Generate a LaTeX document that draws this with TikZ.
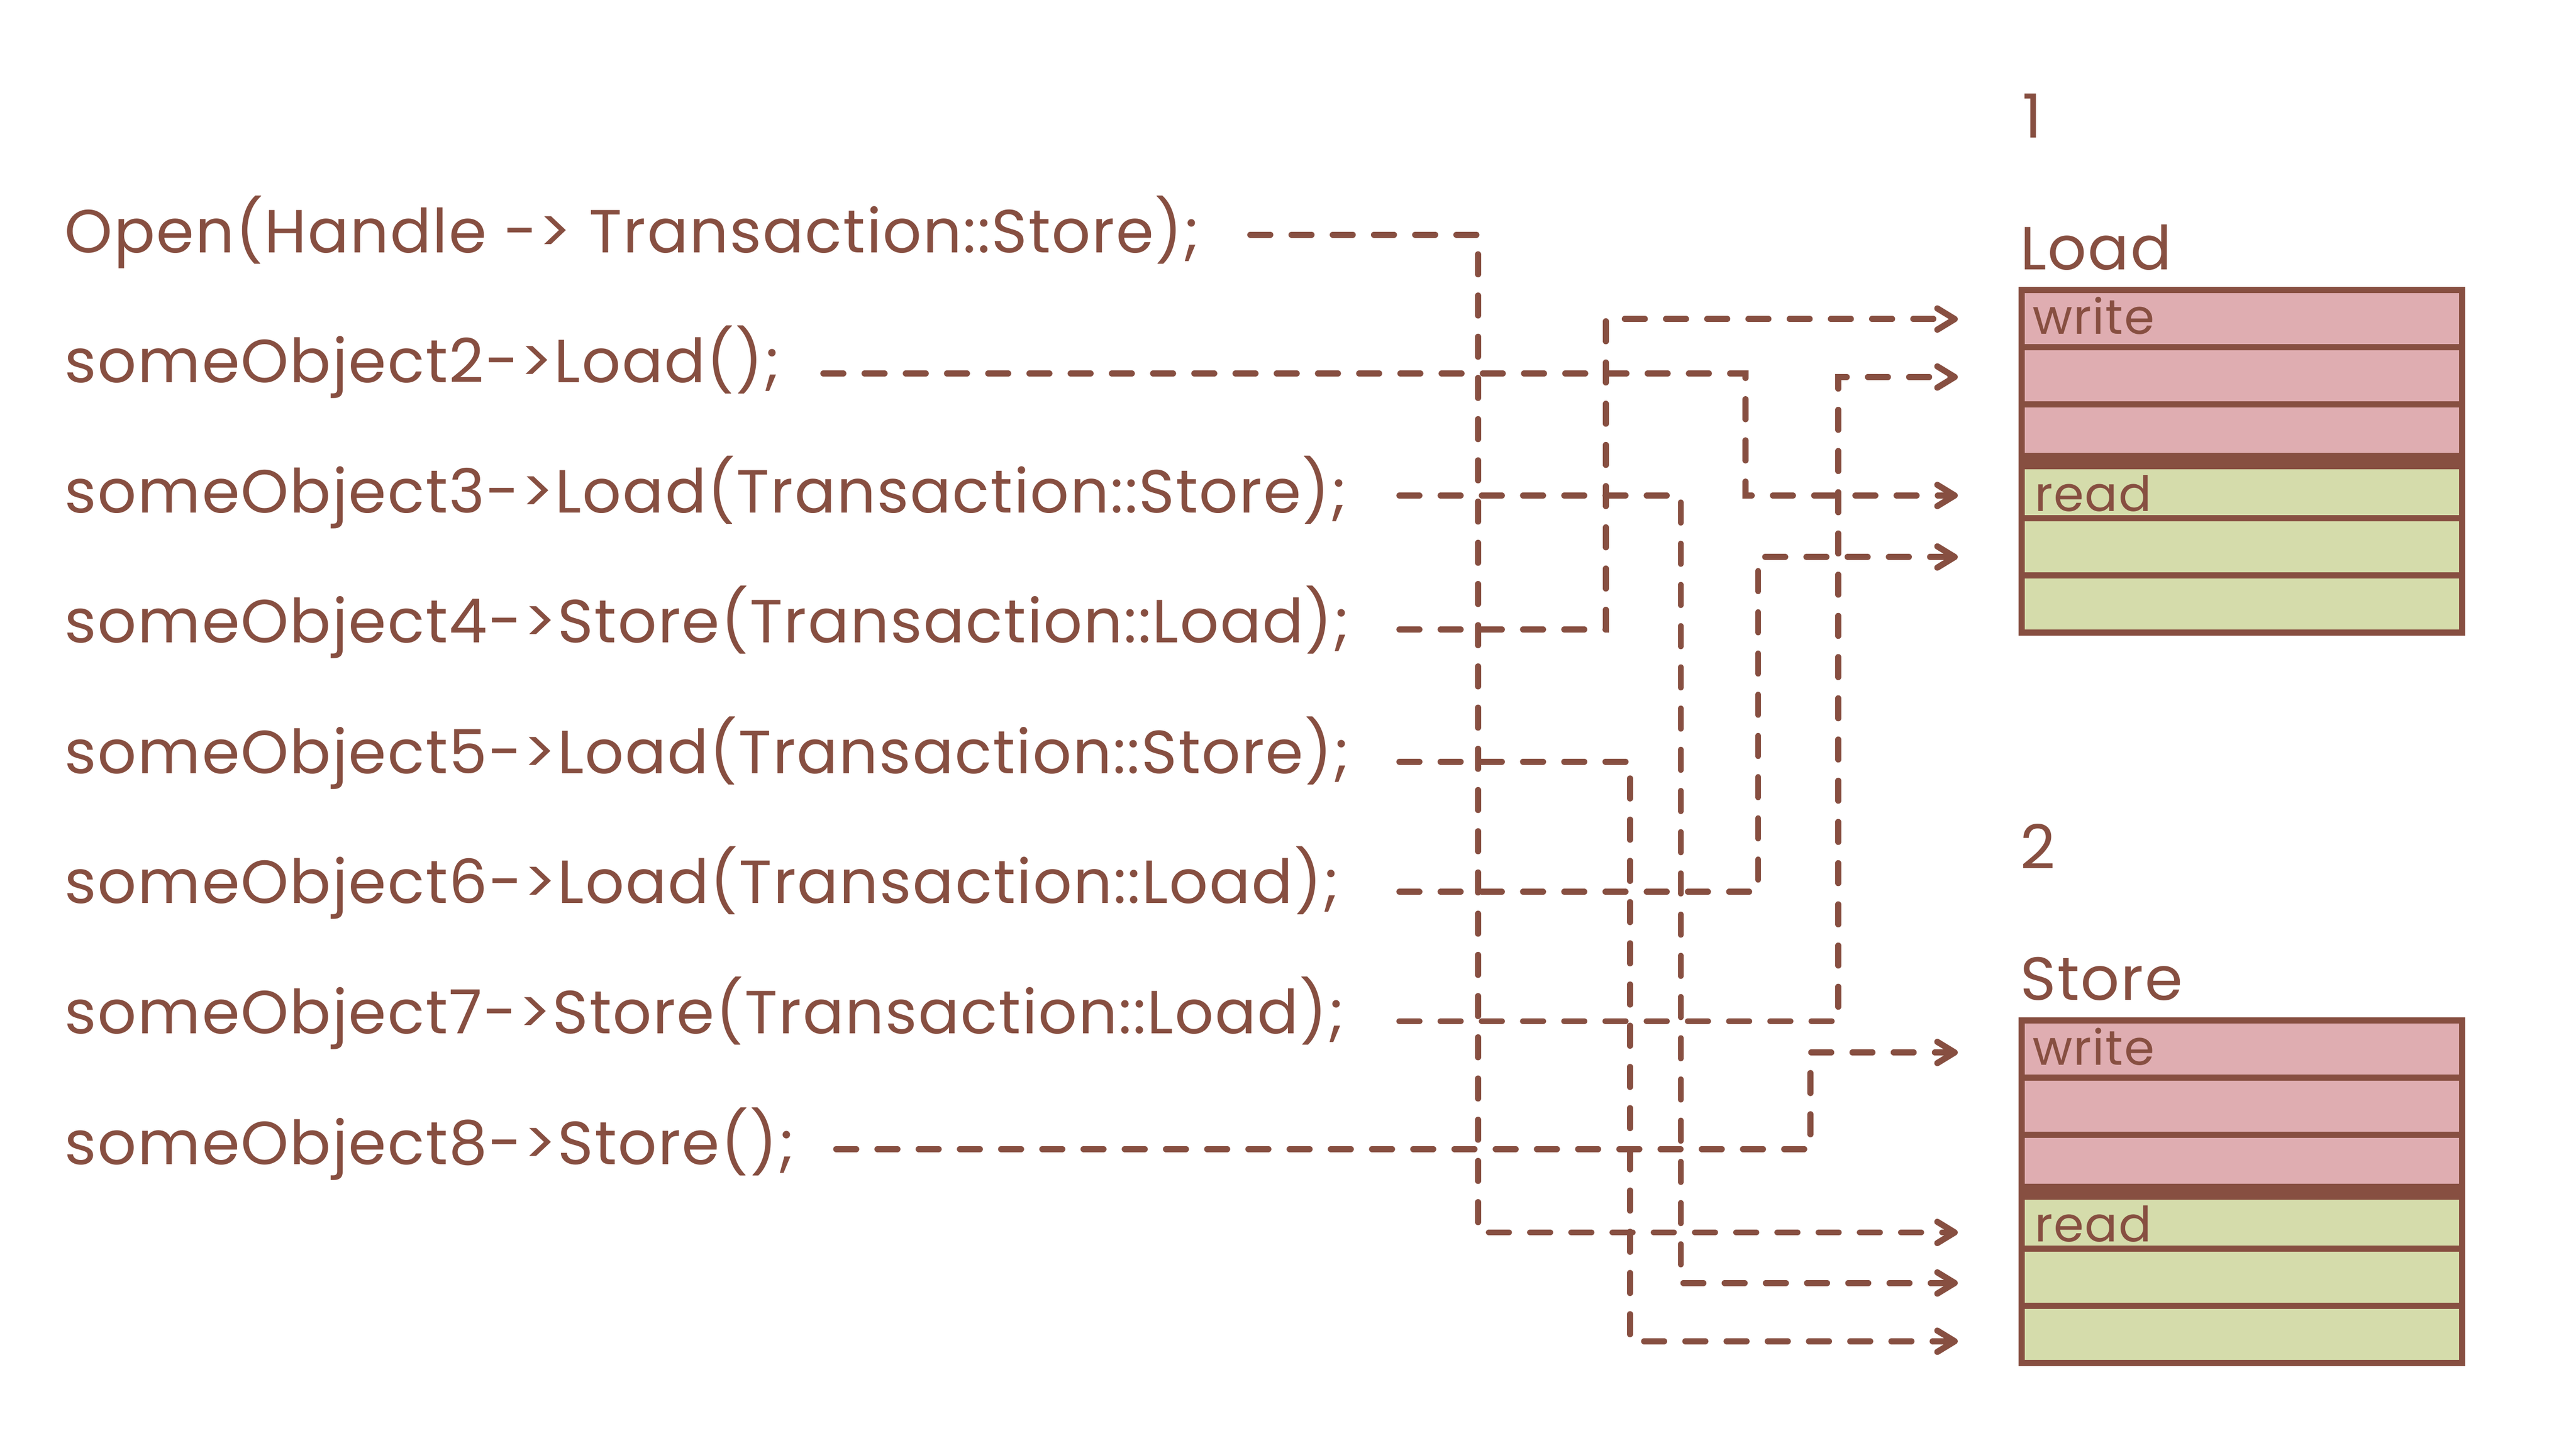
\documentclass[tikz,border=0pt]{standalone}
\usepackage{fontspec}
\setmainfont{Poppins}[LetterSpace=2.0]
\usetikzlibrary{positioning,arrows.meta}
\definecolor{rust}{HTML}{874F41}
\definecolor{rowpink}{HTML}{DFADB1}
\definecolor{rowgreen}{HTML}{D5DCAB}

\begin{document}
\begin{tikzpicture}[node distance=0.886cm,on grid,
        code/.style={anchor=base west,inner sep=0pt,text=rust,font=\fontsize{26.9}{32}\selectfont},
        tag/.style={anchor=base west,inner sep=0pt,text=rust,font=\fontsize{21.5}{26}\selectfont},
        cell/.style={draw=rust,line width=0.095cm,minimum width=6.835cm,minimum height=0.886cm,inner sep=0pt,outer sep=0pt},
        wr/.style={cell,fill=rowpink},
        rd/.style={cell,fill=rowgreen},
        link/.style={draw=rust,line width=0.095cm,line cap=round,dash pattern=on 0.31cm off 0.33cm,
            -{Straight Barb[length=0.27cm,width=0.33cm,line cap=round,line join=round]}}]
        \useasboundingbox (0,0) rectangle (40,-22.485);

        % code lines
        \node[code] (l1) at (1.0,-3.92) {Open(Handle -> Transaction::Store);};
        \node[code] (l2) at (1.0,-5.94) {someObject2->Load();};
        \node[code] (l3) at (1.0,-7.96) {someObject3->Load(Transaction::Store);};
        \node[code] (l4) at (1.0,-9.98) {someObject4->Store(Transaction::Load);};
        \node[code] (l5) at (1.0,-12.01) {someObject5->Load(Transaction::Store);};
        \node[code] (l6) at (1.0,-14.03) {someObject6->Load(Transaction::Load);};
        \node[code] (l7) at (1.0,-16.05) {someObject7->Store(Transaction::Load);};
        \node[code] (l8) at (1.0,-18.08) {someObject8->Store();};

        % Load block
        \node[wr] (ld1) at (34.8125,-4.948) {};
        \node[wr] (ld2) [below=of ld1] {};
        \node[wr] (ld3) [below=of ld2] {};
        \node[rd] (ld4) [below=of ld3] {};
        \node[rd] (ld5) [below=of ld4] {};
        \node[rd] (ld6) [below=of ld5] {};
        \draw[rust,line width=0.255cm] (ld3.south west) -- (ld3.south east);
        \node[tag] at ([shift={(0.16,0.2)}]ld1.south west) {write};
        \node[tag] at ([shift={(0.19,0.11)}]ld4.south west) {read};
        \node[code] (n1) at ([shift={(0.0,2.365)}]ld1.north west) {1};
        \node[code] (load) at ([shift={(-0.03,0.315)}]ld1.north west) {Load};

        % Store block
        \node[wr] (st1) at (34.8125,-16.293) {};
        \node[wr] (st2) [below=of st1] {};
        \node[wr] (st3) [below=of st2] {};
        \node[rd] (st4) [below=of st3] {};
        \node[rd] (st5) [below=of st4] {};
        \node[rd] (st6) [below=of st5] {};
        \draw[rust,line width=0.255cm] (st3.south west) -- (st3.south east);
        \node[tag] at ([shift={(0.16,0.2)}]st1.south west) {write};
        \node[tag] at ([shift={(0.19,0.11)}]st4.south west) {read};
        \node[code] (n2) at ([shift={(-0.03,2.36)}]st1.north west) {2};
        \node[code] (store) at ([shift={(-0.03,0.32)}]st1.north west) {Store};

        % ends of the links
        \coordinate (s1) at (19.415,-3.645);
        \coordinate (s2) at (12.785,-5.80);
        \coordinate (s3) at (21.73,-7.695);
        \coordinate (s4) at (21.73,-9.775);
        \coordinate (s5) at (21.73,-11.83);
        \coordinate (s6) at (21.73,-13.85);
        \coordinate (s7) at (21.73,-15.86);
        \coordinate (s8) at (12.985,-17.845);
        \coordinate (t1) at (30.40,-19.14);
        \coordinate (t2) at (30.40,-7.695);
        \coordinate (t3) at (30.40,-19.925);
        \coordinate (t4) at (30.40,-4.955);
        \coordinate (t5) at (30.40,-20.83);
        \coordinate (t6) at (30.40,-8.65);
        \coordinate (t7) at (30.40,-5.855);
        \coordinate (t8) at (30.40,-16.345);

        \draw[link] (s1) -| (22.95,-19.14) -- (t1);
        \draw[link] (s2) -| (27.105,-7.695) -- (t2);
        \draw[link] (s3) -| (26.10,-19.925) -- (t3);
        \draw[link] (s4) -| (24.935,-4.955) -- (t4);
        \draw[link] (s5) -| (25.31,-20.83) -- (t5);
        \draw[link] (s6) -| (27.30,-8.65) -- (t6);
        \draw[link] (s7) -| (28.545,-5.855) -- (t7);
        \draw[link] (s8) -| (28.115,-16.345) -- (t8);
    \end{tikzpicture}
\end{document}
